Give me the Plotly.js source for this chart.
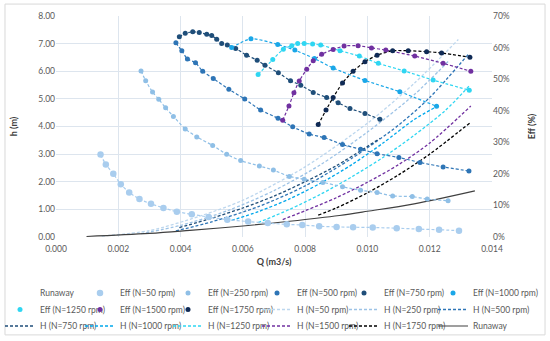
<!DOCTYPE html>
<html><head><meta charset="utf-8">
<script src="https://cdn.plot.ly/plotly-3.0.1.min.js"></script>
<style>html,body{margin:0;padding:0;background:#fff}#c{width:550px;height:341px}</style>
</head><body><div id="c"></div>
<script>
// Efficiency series (Q in m3/s, Eff in %)
var q50  = [0.00143,0.00160,0.00184,0.00208,0.00235,0.00268,0.00305,0.00345,0.00388,0.00436,0.00490,0.00550,0.00617,0.00680,0.00741,0.00791,0.00845,0.00901,0.00954,0.01017,0.01094,0.01165,0.01230,0.01294];
var e50  = [26.1,23.0,20.0,16.7,14.1,12.0,10.5,9.2,8.0,7.2,6.3,5.5,4.9,4.4,4.0,3.8,3.4,3.2,3.1,3.0,2.8,2.5,2.3,2.0];
var q250 = [0.00273,0.00288,0.00310,0.00330,0.00352,0.00377,0.00415,0.00452,0.00503,0.00548,0.00593,0.00653,0.00698,0.00749,0.00797,0.00857,0.00920,0.00978,0.01031,0.01081,0.01144,0.01192,0.01259];
var e250 = [52.6,49.5,45.9,43.6,40.9,38.2,34.2,31.7,29.0,26.2,24.2,22.5,21.2,19.2,18.3,17.3,15.9,14.8,14.1,13.0,12.8,12.0,11.5];
var q500 = [0.00385,0.00404,0.00422,0.00448,0.00471,0.00505,0.00555,0.00606,0.00657,0.00713,0.00760,0.00813,0.00861,0.00920,0.00978,0.01031,0.01101,0.01169,0.01243,0.01326];
var e500 = [61.5,59.0,56.4,55.2,52.5,50.2,46.8,43.7,40.2,37.6,34.9,32.6,31.5,29.3,27.8,26.4,25.2,23.6,22.2,20.9];
var q750 = [0.00396,0.00415,0.00439,0.00460,0.00484,0.00500,0.00516,0.00532,0.00550,0.00577,0.00612,0.00646,0.00671,0.00714,0.00753,0.00786,0.00826,0.00869,0.00906,0.00944,0.00992,0.01040];
var e750 = [63.4,64.5,65.0,64.8,64.2,63.8,62.6,61.3,60.8,59.7,57.6,56.0,54.4,52.0,49.5,48.1,45.8,44.2,42.5,40.7,39.1,37.3];
var q1000 = [0.00564,0.00626,0.00712,0.00767,0.00830,0.00890,0.00992,0.01104,0.01222];
var e1000 = [60.0,62.8,61.0,59.2,56.5,53.5,49.6,46.0,41.4];
var q1250 = [0.00649,0.00696,0.00730,0.00757,0.00776,0.00797,0.00824,0.00850,0.00912,0.00974,0.01035,0.01118,0.01211,0.01327];
var e1250 = [51.5,56.2,59.5,60.6,61.3,61.3,61.1,60.8,59.0,57.3,55.0,52.6,49.7,46.5];
var q1500 = [0.00728,0.00748,0.00764,0.00781,0.00805,0.00826,0.00853,0.00890,0.00925,0.00970,0.01013,0.01059,0.01152,0.01243,0.01332];
var e1500 = [37.0,41.5,45.7,49.4,53.1,55.8,57.9,59.4,60.5,60.6,59.9,59.2,57.3,55.0,52.5];
var q1750 = [0.00842,0.00867,0.00890,0.00920,0.00954,0.00992,0.01031,0.01081,0.01131,0.01190,0.01238,0.01329];
var e1750 = [35.6,40.2,44.2,48.8,52.5,55.5,57.6,59.0,59.0,58.7,58.3,56.9];

// Head curves (Q in m3/s, h in m)
var qh50  = [0.00147,0.0030,0.0046,0.0060,0.0080,0.0100,0.0115,0.01292];
var h50   = [0.03,0.23,0.75,1.33,2.54,4.12,5.56,7.15];
var qh250 = [0.00273,0.0040,0.0055,0.0070,0.0085,0.0100,0.0115,0.01259];
var h250  = [0.12,0.42,0.95,1.68,2.62,3.80,5.15,6.35];
var qh500 = [0.00385,0.0050,0.0065,0.0080,0.0095,0.0110,0.0120,0.01326];
var h500  = [0.22,0.55,1.10,1.85,2.85,4.05,5.05,6.64];
var qh750 = [0.00396,0.0050,0.0060,0.0070,0.0080,0.0090,0.01040];
var h750  = [0.34,0.68,1.05,1.48,2.00,2.58,3.57];
var qh1000 = [0.00564,0.0065,0.0075,0.0085,0.0095,0.0105,0.01150,0.01222];
var h1000  = [0.60,0.92,1.38,1.95,2.62,3.40,4.25,4.72];
var qh1250 = [0.00649,0.0075,0.0085,0.0095,0.0105,0.0115,0.0125,0.01327];
var h1250  = [0.52,1.00,1.55,2.18,2.88,3.68,4.58,5.47];
var qh1500 = [0.00728,0.0080,0.0090,0.0100,0.0110,0.0120,0.01332];
var h1500  = [0.63,0.95,1.42,1.98,2.62,3.40,4.74];
var qh1750 = [0.00842,0.0090,0.0100,0.0110,0.0120,0.01329];
var h1750  = [0.79,1.05,1.60,2.25,3.00,4.13];
var qRun = [0.00098,0.0030,0.0043,0.0060,0.0075,0.0091,0.0100,0.0115,0.01345];
var hRun = [0.02,0.13,0.24,0.40,0.57,0.78,0.93,1.20,1.67];

var effNames = ['Eff (N=50 rpm)','Eff (N=250 rpm)','Eff (N=500 rpm)','Eff (N=750 rpm)','Eff (N=1000 rpm)','Eff (N=1250 rpm)','Eff (N=1500 rpm)','Eff (N=1750 rpm)'];
var hNames = ['H (N=50 rpm)','H (N=250 rpm)','H (N=500 rpm)','H (N=750 rpm)','H (N=1000 rpm)','H (N=1250 rpm)','H (N=1500 rpm)','H (N=1750 rpm)'];

var effQ = [q50,q250,q500,q750,q1000,q1250,q1500,q1750];
var effV = [e50,e250,e500,e750,e1000,e1250,e1500,e1750];
var hQ = [qh50,qh250,qh500,qh750,qh1000,qh1250,qh1500,qh1750];
var hV = [h50,h250,h500,h750,h1000,h1250,h1500,h1750];

var effColors = ['#a9cdee','#8fbfe6','#2e75b6','#1f4e79','#1aa7e8','#2fd6f2','#7030a0','#0f2a55'];
var effLine   = ['#a9cdee','#8fbfe6','#2e75b6','#1f4e79','#1aa7e8','#2fd6f2','#7030a0','#000000'];
var hColors   = ['#bdd7ee','#9dc3e6','#2e75b6','#1f4e79','#00a8ec','#2fd6f2','#7030a0','#000000'];
var mSizes = [6.5,5,5,5,5,5,5,5];

// one legend per entry, laid out as a 6 x 3 grid like the original
var colTextX = [42,130,218,307,394,483];
var rowY = [293,309.5,326];
function legName(k){ return k === 0 ? 'legend' : 'legend' + (k+1); }
var traces = [];
var k = 0;
traces.push({x:qRun, y:hRun, name:'Runaway', mode:'lines', line:{width:0, color:'rgba(0,0,0,0)'}, hoverinfo:'skip', legend:legName(k++)});
// efficiency fitted lines (no legend entry)
for (var i=0;i<8;i++){
  traces.push({x:effQ[i], y:effV[i], yaxis:'y2', mode:'lines', showlegend:false,
    line:{color:effLine[i], width:1.2, dash:'3px,2px', shape:'spline', smoothing:0.6}});
}
// efficiency measured points
for (var i2=0;i2<8;i2++){
  traces.push({x:effQ[i2], y:effV[i2], name:effNames[i2], yaxis:'y2', mode:'markers',
    marker:{color:effColors[i2], size:mSizes[i2]}, legend:legName(k++)});
}
for (var j=0;j<8;j++){
  traces.push({x:hQ[j], y:hV[j], name:hNames[j], mode:'lines',
    line:{color:hColors[j], width:1.3, dash:'3px,2px', shape:'spline', smoothing:0.8}, legend:legName(k++)});
}
traces.push({x:qRun, y:hRun, name:'Runaway', mode:'lines', line:{color:'#404040', width:1.1, shape:'spline'}, legend:legName(k++)});

var font = {family:'Lato, "Open Sans", sans-serif', size:9, color:'#595959'};
var layout = {
  width:550, height:341,
  margin:{l:56, r:58, t:16, b:104, autoexpand:false},
  paper_bgcolor:'#fff', plot_bgcolor:'#fff',
  font:font, showlegend:true,
  xaxis:{range:[0,0.014], dtick:0.002, tickformat:'.3f', showgrid:true, gridcolor:'#dde5ee', zeroline:false,
    showline:false, ticks:'', tickfont:{size:8.5, color:'#595959'}, ticklabelstandoff:5,
    title:{text:'<b>Q (m3/s)</b>', font:{size:9, color:'#404040'}, standoff:6}},
  yaxis:{range:[0,8], dtick:1, tickformat:'.2f', showgrid:true, gridcolor:'#dde5ee', zeroline:false,
    ticks:'', tickfont:{size:8.5, color:'#595959'},
    title:{text:'<b>h (m)</b>', font:{size:9, color:'#404040'}, standoff:19}},
  yaxis2:{range:[0,70], dtick:10, ticksuffix:'%', overlaying:'y', side:'right', showgrid:false, zeroline:false,
    ticks:'', tickfont:{size:8.5, color:'#595959'},
    title:{text:'<b>Eff (%)</b>', font:{size:9, color:'#404040'}, standoff:19}},
  shapes:[{type:'rect', xref:'paper', yref:'paper', x0:-0.117, x1:1.1216, y0:-0.443, y1:1.054, line:{color:'#d9d9d9', width:1}}]
};
for (var m=0;m<18;m++){
  var r = Math.floor(m/6), c = m%6;
  layout[legName(m)] = {orientation:'h', xref:'container', yref:'container',
    x:(colTextX[c]-50)/550, y:1-rowY[r]/341, xanchor:'left', yanchor:'middle',
    font:{size:8.5, color:'#595959'}, bgcolor:'rgba(0,0,0,0)'};
}
Plotly.newPlot('c', traces, layout, {displayModeBar:false, staticPlot:true});
</script></body></html>
